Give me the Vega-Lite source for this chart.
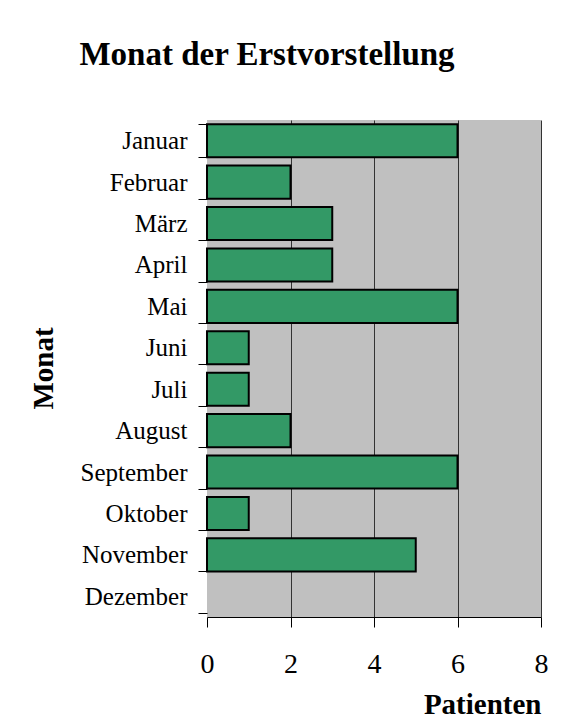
{
  "$schema": "https://vega.github.io/schema/vega-lite/v6.json",
  "width": 334,
  "height": 497,
  "autosize": {"type": "none"},
  "padding": {"left": 207, "top": 120, "right": 25, "bottom": 110},
  "background": "white",
  "title": {
    "text": "Monat der Erstvorstellung",
    "font": "Liberation Serif",
    "fontSize": 33,
    "fontWeight": "bold",
    "color": "black",
    "anchor": "middle",
    "frame": "group",
    "dx": -107,
    "offset": 36
  },
  "data": {
    "values": [
      {"Monat": "Januar", "Patienten": 6},
      {"Monat": "Februar", "Patienten": 2},
      {"Monat": "März", "Patienten": 3},
      {"Monat": "April", "Patienten": 3},
      {"Monat": "Mai", "Patienten": 6},
      {"Monat": "Juni", "Patienten": 1},
      {"Monat": "Juli", "Patienten": 1},
      {"Monat": "August", "Patienten": 2},
      {"Monat": "September", "Patienten": 6},
      {"Monat": "Oktober", "Patienten": 1},
      {"Monat": "November", "Patienten": 5},
      {"Monat": "Dezember", "Patienten": 0}
    ]
  },
  "mark": {"type": "bar", "fill": "#339966", "stroke": "black", "cornerRadius": 0},
  "encoding": {
    "y": {
      "field": "Monat",
      "type": "nominal",
      "sort": null,
      "scale": {"paddingInner": 0.2, "paddingOuter": 0.1},
      "axis": {
        "title": "Monat",
        "tickBand": "extent",
        "domain": false,
        "ticks": true,
        "tickColor": "black",
        "tickSize": 9,
        "labelPadding": 11,
        "labelFont": "Liberation Serif",
        "labelFontSize": 25,
        "labelColor": "black",
        "titleFont": "Liberation Serif",
        "titleFontSize": 29,
        "titleFontWeight": "bold",
        "titleColor": "black",
        "titleX": -164,
        "titleY": 248,
        "titleAnchor": "middle",
        "titleBaseline": "middle"
      }
    },
    "x": {
      "field": "Patienten",
      "type": "quantitative",
      "scale": {"domain": [0, 8], "nice": false},
      "axis": {
        "title": "Patienten",
        "values": [0, 2, 4, 6, 8],
        "format": "d",
        "grid": true,
        "gridColor": "#333333",
        "gridWidth": 1,
        "gridOpacity": {"condition": {"test": "datum.value == 0", "value": 0}, "value": 1},
        "domain": true,
        "domainColor": "black",
        "tickColor": "black",
        "tickSize": 10,
        "labelFlush": false,
        "labelPadding": 23,
        "labelFont": "Liberation Serif",
        "labelFontSize": 28,
        "labelColor": "black",
        "titleFont": "Liberation Serif",
        "titleFontSize": 29,
        "titleFontWeight": "bold",
        "titleColor": "black",
        "titleAnchor": "end",
        "titleAlign": "right",
        "titleX": 334,
        "titleY": 96,
        "titleBaseline": "alphabetic"
      }
    },
    "strokeWidth": {
      "condition": {"test": "datum.Patienten == 0", "value": 0},
      "value": 2
    }
  },
  "config": {
    "view": {"fill": "#C0C0C0", "stroke": null}
  }
}
